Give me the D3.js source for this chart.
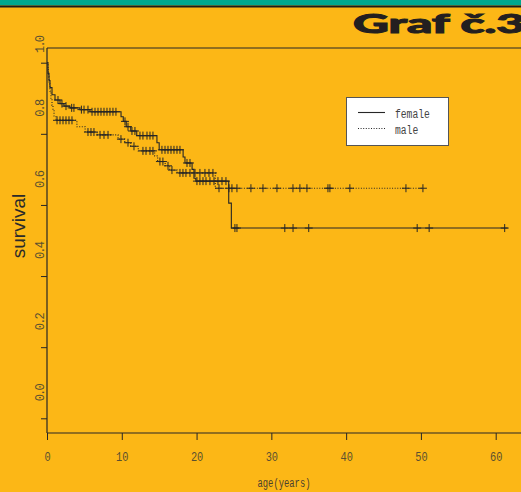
<!DOCTYPE html>
<html><head><meta charset="utf-8">
<script src="https://cdn.jsdelivr.net/npm/d3@7"></script>
<style>
html,body{margin:0;padding:0;background:#FCB716;overflow:hidden;}
svg{display:block;}
</style></head>
<body>
<script>
// ---- data ----
const title = "Graf č.3";
const yLabel = "survival";
const xLabel = "age(years)";
const xTicks = [0, 10, 20, 30, 40, 50, 60];
const yTicks = [0.0, 0.2, 0.4, 0.6, 0.8, 1.0];
const yTickLabels = ["0.0", "0.2", "0.4", "0.6", "0.8", "1.0"];
const seriesNames = ["female", "male"];

// female Kaplan-Meier: event times and survival after event
const femaleTimes = [0, 0.13, 0.27, 0.4, 0.67, 1.07, 1.74, 2.27, 3.07, 4.4, 5.75, 9.9, 10.2, 10.6, 11.2, 12.0, 14.7, 15.0, 18.2, 18.45, 19.4, 19.65, 19.9, 24.3, 24.65];
const femaleSurv  = [1.0, 0.97, 0.95, 0.93, 0.91, 0.895, 0.885, 0.878, 0.873, 0.868, 0.862, 0.848, 0.835, 0.82, 0.808, 0.795, 0.775, 0.755, 0.735, 0.718, 0.70, 0.675, 0.667, 0.605, 0.535];
const femaleCensor = [1.47, 2.0, 2.54, 3.3, 3.6, 4.6, 4.95, 5.48, 6.02, 6.42, 6.82, 7.22, 7.62, 8.02, 8.42, 8.82, 9.22, 10.43, 10.83, 11.36, 11.76, 12.43, 12.83, 13.37, 13.77, 14.17, 15.37, 15.78, 16.18, 16.58, 16.98, 17.38, 17.78, 18.72, 19.12, 20.05, 20.45, 20.86, 21.26, 21.79, 22.33, 22.86, 23.4, 23.93, 25.13, 25.4, 31.8, 32.9, 35.0, 49.5, 51.1, 61.2];
const femaleEnd = 61.6;

// male Kaplan-Meier
const maleTimes = [0, 0.13, 0.2, 0.27, 0.4, 0.53, 0.67, 0.8, 0.94, 1.2, 4.0, 5.1, 6.7, 9.5, 10.4, 11.2, 12.2, 14.4, 14.8, 15.8, 16.4, 17.4, 22.5];
const maleSurv  = [1.0, 0.98, 0.96, 0.94, 0.92, 0.90, 0.88, 0.865, 0.85, 0.838, 0.82, 0.805, 0.797, 0.785, 0.775, 0.765, 0.752, 0.738, 0.722, 0.71, 0.698, 0.69, 0.647];
const maleCensor = [1.34, 1.74, 2.14, 2.54, 2.94, 3.34, 5.48, 5.88, 6.28, 7.09, 7.62, 8.16, 9.89, 10.83, 11.63, 12.83, 13.24, 13.77, 14.17, 15.1, 15.5, 16.18, 16.71, 17.78, 18.18, 18.58, 19.12, 19.79, 20.45, 21.12, 21.66, 22.19, 23.0, 24.33, 24.73, 25.4, 27.27, 28.88, 30.75, 32.89, 33.82, 34.76, 37.57, 37.83, 40.5, 48.0, 50.27];
const maleEnd = 50.3;

// ---- drawing ----
const W = 521, H = 492;
const svg = d3.select("body").append("svg").attr("width", W).attr("height", H);
svg.append("rect").attr("width", W).attr("height", H).attr("fill", "#FCB716");

// header band
svg.append("rect").attr("x", 0).attr("y", 0).attr("width", W).attr("height", 5.5).attr("fill", "#00A88F");
svg.append("rect").attr("x", 0).attr("y", 5.5).attr("width", W).attr("height", 2).attr("fill", "#1c1c1c");
svg.append("text").attr("x", 353).attr("y", 33)
  .attr("font-family", "Lato, Inter, 'Liberation Sans', sans-serif")
  .attr("font-weight", 900).attr("font-size", 26).attr("fill", "#231f20")
  .attr("stroke", "#231f20").attr("stroke-width", 1)
  .attr("textLength", 172).attr("lengthAdjust", "spacingAndGlyphs")
  .text(title);

const x = d3.scaleLinear().domain([0, 60]).range([47, 495.7]);
const y = d3.scaleLinear().domain([0, 1]).range([418.3, 62.7]);
const ink = "#262626";
const labCol = "#5a5030";

// box / axes lines
svg.append("line").attr("x1", 47).attr("x2", W).attr("y1", 48).attr("y2", 48).attr("stroke", ink).attr("stroke-width", 1);
svg.append("line").attr("x1", 47).attr("x2", W).attr("y1", 433).attr("y2", 433).attr("stroke", ink).attr("stroke-width", 1.2);
svg.append("line").attr("x1", 47).attr("x2", 47).attr("y1", 48).attr("y2", 433).attr("stroke", ink).attr("stroke-width", 1.2);

// x axis
const xAxis = d3.axisBottom(x).tickValues(xTicks).tickSize(7).tickFormat(d3.format("d"));
const gx = svg.append("g").attr("transform", "translate(0,433)").call(xAxis);
gx.select(".domain").remove();
gx.selectAll(".tick line").attr("stroke", ink).attr("stroke-width", 1);
gx.selectAll(".tick text").attr("fill", labCol).attr("font-family", "'Liberation Mono', 'DejaVu Sans Mono', monospace")
  .attr("font-size", 13).attr("y", 28).attr("dy", 0)
  .attr("textLength", d => String(d).length * 6.2).attr("lengthAdjust", "spacingAndGlyphs");

// y axis
const yAxis = d3.axisLeft(y).tickValues(yTicks).tickSize(6).tickFormat("");
const gy = svg.append("g").attr("transform", "translate(47,0)").call(yAxis);
gy.select(".domain").remove();
gy.selectAll(".tick line").attr("stroke", ink).attr("stroke-width", 1);
svg.append("g").selectAll("text").data(yTicks).join("text")
  .attr("transform", (d, i) => `translate(44,${d === 1 ? 44 : y(d) - 26}) rotate(-90)`)
  .attr("text-anchor", "middle")
  .attr("fill", labCol).attr("font-family", "'Liberation Mono', 'DejaVu Sans Mono', monospace")
  .attr("font-size", 12).attr("textLength", 18).attr("lengthAdjust", "spacing")
  .text((d, i) => yTickLabels[i]);

// axis titles
svg.append("text").attr("transform", "translate(25,226) rotate(-90)").attr("text-anchor", "middle")
  .attr("font-family", "'Liberation Sans', Arial, sans-serif").attr("font-size", 19).attr("fill", "#2a2a2a")
  .text(yLabel);
svg.append("text").attr("x", 284).attr("y", 487).attr("text-anchor", "middle")
  .attr("font-family", "'Liberation Mono', 'DejaVu Sans Mono', monospace").attr("font-size", 12).attr("fill", "#4a4030")
  .attr("textLength", 53).attr("lengthAdjust", "spacingAndGlyphs")
  .text(xLabel);

// KM curves
function stepPoints(times, surv, end) {
  const pts = times.map((t, i) => [t, surv[i]]);
  pts.push([end, surv[surv.length - 1]]);
  return pts;
}
function survAt(times, surv, t) {
  let s = surv[0];
  for (let i = 0; i < times.length; i++) if (times[i] <= t) s = surv[i];
  return s;
}
const line = d3.line().x(d => x(d[0])).y(d => y(d[1])).curve(d3.curveStepAfter);

const series = [
  {times: femaleTimes, surv: femaleSurv, cens: femaleCensor, end: femaleEnd, dash: null},
  {times: maleTimes, surv: maleSurv, cens: maleCensor, end: maleEnd, dash: "1,1.6"}
];
series.forEach(s => {
  svg.append("path").attr("d", line(stepPoints(s.times, s.surv, s.end)))
    .attr("fill", "none").attr("stroke", ink).attr("stroke-width", 1.1)
    .attr("stroke-dasharray", s.dash);
  const g = svg.append("g").attr("stroke", ink).attr("stroke-width", 1);
  s.cens.forEach(c => {
    const cx = x(c), cy = y(survAt(s.times, s.surv, c));
    g.append("line").attr("x1", cx - 4).attr("x2", cx + 4).attr("y1", cy).attr("y2", cy);
    g.append("line").attr("x1", cx).attr("x2", cx).attr("y1", cy - 4).attr("y2", cy + 4);
  });
});

// legend
svg.append("rect").attr("x", 346.5).attr("y", 97.5).attr("width", 102).attr("height", 48)
  .attr("fill", "#ffffff").attr("stroke", "#555").attr("stroke-width", 1);
svg.append("line").attr("x1", 358).attr("x2", 385).attr("y1", 112.5).attr("y2", 112.5).attr("stroke", ink).attr("stroke-width", 1.1);
svg.append("line").attr("x1", 358).attr("x2", 385).attr("y1", 128.5).attr("y2", 128.5).attr("stroke", ink).attr("stroke-width", 1.1).attr("stroke-dasharray", "1,1.6");
svg.append("g").selectAll("text").data(seriesNames).join("text")
  .attr("x", 395).attr("y", (d, i) => 118 + i * 16)
  .attr("font-family", "'Liberation Mono', 'DejaVu Sans Mono', monospace").attr("font-size", 12).attr("fill", "#444")
  .attr("textLength", d => d.length * 5.8).attr("lengthAdjust", "spacingAndGlyphs")
  .text(d => d);
</script>
</body></html>
